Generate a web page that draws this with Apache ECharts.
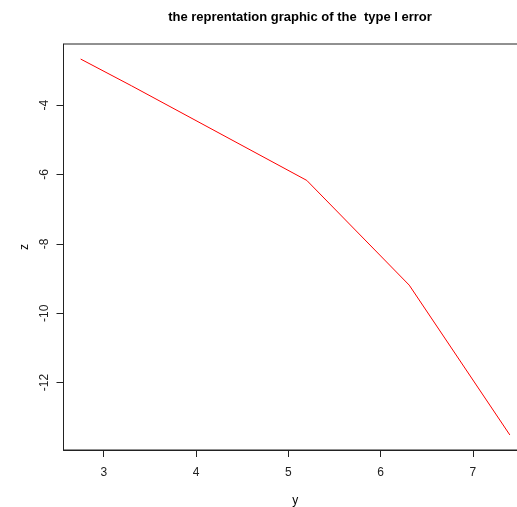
<!DOCTYPE html>
<html>
<head>
<meta charset="utf-8">
<script src="https://cdn.jsdelivr.net/npm/echarts@6/dist/echarts.min.js"></script>
<style>html,body{margin:0;padding:0;background:#fff;}#c{width:517px;height:507px;}</style>
</head>
<body>
<div id="c"></div>
<script>
const titleText = "the reprentation graphic of the  type I error";
const xName = "y";
const yName = "z";
const yValues = [2.75, 3.3, 5.2, 6.31, 7.40];
const zValues = [-2.67, -3.44, -6.17, -9.19, -13.51];
const xTicks = [3, 4, 5, 6, 7];
const yTicks = [-4, -6, -8, -10, -12];

const xMin = 2.564, xMax = 7.586;
const yMin = -13.944, yMax = -2.236;

const chart = echarts.init(document.getElementById('c'), null, {renderer: 'canvas'});
const font = "Liberation Sans, Arial, Helvetica, sans-serif";
chart.setOption({
  animation: false,
  backgroundColor: '#fff',
  title: {
    text: titleText,
    left: 295, top: 6, textAlign: 'center',
    textStyle: {fontFamily: font, fontSize: 13, fontWeight: 'bold', color: '#000'}
  },
  grid: {
    left: 63.5, top: 44, right: -10, bottom: 57,
    outerBoundsMode: 'none', containLabel: false,
    show: true, borderColor: '#222', borderWidth: 1, backgroundColor: 'transparent'
  },
  xAxis: {
    type: 'value', min: xMin, max: xMax,
    name: xName, nameLocation: 'middle', nameGap: 45,
    nameTextStyle: {fontFamily: font, fontSize: 12, color: '#000'},
    splitLine: {show: false},
    axisLine: {show: true, lineStyle: {color: '#222', width: 1}},
    axisTick: {show: true, length: 7, customValues: xTicks, lineStyle: {color: '#222'}},
    axisLabel: {customValues: xTicks, margin: 17, fontFamily: font, fontSize: 12, color: '#222'}
  },
  yAxis: {
    type: 'value', min: yMin, max: yMax,
    name: yName, nameLocation: 'middle', nameGap: 32, nameRotate: 90,
    nameTextStyle: {fontFamily: font, fontSize: 12, color: '#000'},
    splitLine: {show: false},
    axisLine: {show: true, lineStyle: {color: '#222', width: 1}},
    axisTick: {show: true, length: 7, customValues: yTicks, lineStyle: {color: '#222'}},
    axisLabel: {customValues: yTicks, rotate: 90, margin: 13, fontFamily: font, fontSize: 12, color: '#222'}
  },
  series: [{
    type: 'line',
    data: yValues.map((v, i) => [v, zValues[i]]),
    showSymbol: false, symbol: 'none',
    lineStyle: {color: '#ff0000', width: 1},
    clip: true
  }]
});
</script>
</body>
</html>
